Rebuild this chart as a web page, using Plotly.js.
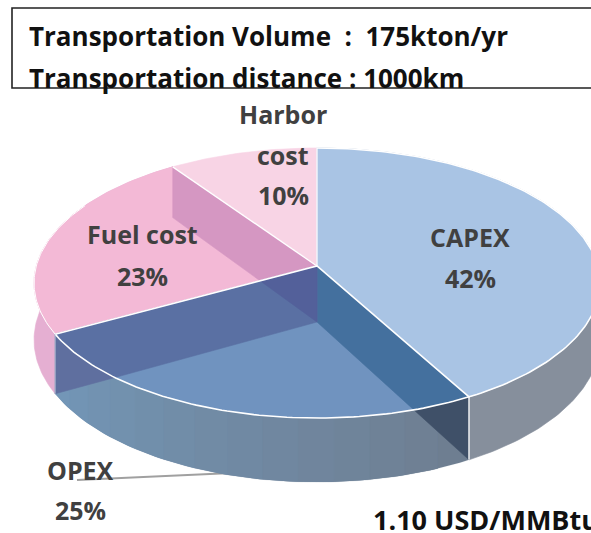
<!DOCTYPE html>
<html>
<head>
<meta charset="utf-8">
<script src="https://cdn.plot.ly/plotly-3.0.1.min.js"></script>
<style>html,body{margin:0;padding:0;background:#fff;overflow:hidden}#chart{width:591px;height:533px}</style>
</head>
<body>
<div id="chart"></div>
<script>
// Data
const categories = ["CAPEX", "OPEX", "Fuel cost", "Harbor cost"];
const shares = [42, 25, 23.4, 9.6];
const headerLines = ["Transportation Volume  :  175kton/yr", "Transportation distance : 1000km"];
const priceLabel = "1.10 USD/MMBtu";

// Style and layout
const C = {capexTop:"#A9C4E4", capexSide:"#868F9C", fuelTop:"#F3B9D6", fuelSide:"#E5AFD2", fuelWall:"#D597C2",
  harborTop:"#F8D4E5", floor:"#7093BF", rightWall:"#44709E", rightWallLow:"#3F5068", leftWall:"#5A70A3",
  leftWallLow:"#5F6F9F", overlap:"#53609A"};
const G = {cx:317, cy:266, a:280.7, b:132.9, k:0.126, depth:56};
const FONT = '"Open Sans", "Noto Sans", sans-serif';

const pct = shares.map(v => v / shares.reduce((s, x) => s + x, 0));
const cum = pct.reduce((acc, p) => { acc.push(acc[acc.length - 1] + p); return acc; }, [0]);

// Perspective projection of the pie disc into the axes
function rim(f, low) {
  const t = 2 * Math.PI * f, X = Math.sin(t), Y = -Math.cos(t), w = 1 - G.k * Y;
  return [G.cx + G.a * X / w, G.cy + (G.b * Y + (low ? G.depth : 0)) / w];
}
const A = [G.cx, G.cy], L = [G.cx, G.cy + G.depth];
function arc(f0, f1, low) {
  const n = Math.max(2, Math.ceil(Math.abs(f1 - f0) * 360)), out = [];
  for (let i = 0; i <= n; i++) out.push(rim(f0 + (f1 - f0) * i / n, low));
  return out;
}
function side(p, q, r) { return (q[0]-p[0])*(r[1]-p[1]) - (q[1]-p[1])*(r[0]-p[0]); }
function crossing(P, Q, f0, f1) {
  const n = 2000; let prev = side(P, Q, rim(f0));
  for (let i = 1; i <= n; i++) {
    const f = f0 + (f1 - f0) * i / n, s = side(P, Q, rim(f));
    if (s * prev <= 0 && i > 5) return f;
    prev = s;
  }
  return f1;
}
function meet(p1, p2, p3, p4) {
  const d = (p1[0]-p2[0])*(p3[1]-p4[1]) - (p1[1]-p2[1])*(p3[0]-p4[0]);
  const u = ((p1[0]-p3[0])*(p3[1]-p4[1]) - (p1[1]-p3[1])*(p3[0]-p4[0])) / d;
  return [p1[0] + u*(p2[0]-p1[0]), p1[1] + u*(p2[1]-p1[1])];
}
const traces = [];
function poly(pts, fill, lineColor, lineWidth) {
  const closed = pts.concat([pts[0]]);
  traces.push({type:"scatter", mode:"lines", x:closed.map(p=>p[0]), y:closed.map(p=>p[1]), fill:fill?"toself":"none",
    fillcolor:fill||undefined, line:{color:lineColor||fill, width:lineWidth===undefined?0.6:lineWidth}, hoverinfo:"skip", showlegend:false});
}
function stroke(pts, color, width) {
  traces.push({type:"scatter", mode:"lines", x:pts.map(p=>p[0]), y:pts.map(p=>p[1]),
    line:{color:color, width:width}, hoverinfo:"skip", showlegend:false});
}
const fC = cum[1], fO = cum[2], fF = cum[3];
const O = rim(fO), O2 = rim(fO, true), R = rim(fC), R2 = rim(fC, true), F = rim(fF), F2 = rim(fF, true);

// Leader line for OPEX
stroke([[77,480],[232,473]], "#A0A0A0", 1.8);

// Outer side walls
poly(arc(0, fC).concat(arc(fC, 0, true)), C.capexSide);
poly(arc(fO, fF).concat(arc(fF, fO, true)), C.fuelSide);
const strips = 14, cL = [115,151,184], cR = [110,125,144];
for (let i = 0; i < strips; i++) {
  const f0 = fC + (fO - fC) * i / strips, f1 = fC + (fO - fC) * (i + 1) / strips, m = (i + 0.5) / strips;
  const col = "rgb(" + cL.map((v, j) => Math.round(cR[j] + (v - cR[j]) * m)).join(",") + ")";
  // each strip reaches under the next one, so no seams show between them
  const f2 = Math.min(fO, f1 + (fO - fC) / strips);
  poly(arc(f0, f2).concat(arc(f2, f0, true)), col, col, 0.1);
}

// Top faces
poly([A].concat(arc(fF, 1)), C.harborTop);
poly([A].concat(arc(fO, fF)), C.fuelTop);
poly([A, F, F2, L], C.fuelWall);
poly([A].concat(arc(0, fC)), C.capexTop);
poly([A].concat(arc(fC, fO)), C.floor);

// Inner walls seen through the OPEX slice
const fR = crossing(L, R2, fC, fO), fL = crossing(O2, L, fO, fC);
poly([A].concat(arc(fC, fR)).concat([L]), C.rightWall);
poly([R].concat(arc(fC, fR)).concat([R2]), C.rightWallLow);
poly([A].concat(arc(fO, fL)).concat([L]), C.leftWall);
poly(arc(fO, fL).concat([O2]), C.leftWallLow);
poly([A, L, meet(F2, L, A, O)], C.overlap);

// White edges
stroke(arc(0, fO), "#FFFFFF", 1.6);
stroke(arc(fO, fO + 0.16), "#FFFFFF", 1);
stroke([R, A, O], "#FFFFFF", 1.6);
stroke([A, F], "#FFFFFF", 1.4);
stroke([[G.cx, G.cy], rim(0)], "#FFFFFF", 1.2);
stroke([R, R2], "#FFFFFF", 1.4);
stroke([O, O2], "#C8CFE0", 0.8);

const labelStyle = {family:FONT, size:25, color:"#404040", weight:700};
const blackStyle = {family:FONT, size:26, color:"#111111", weight:700};
const priceStyle = {family:FONT, size:27, color:"#111111", weight:700};
function note(text, x, y, font, anchor) {
  return {text:text, x:x, y:y, xref:"x", yref:"y", showarrow:false, font:font, xanchor:anchor||"center", yanchor:"middle", align:"center"};
}
const pctText = pct.map(p => Math.round(p * 100) + "%");
const annotations = [
  note(headerLines[0], 27, 36, blackStyle, "left"),
  note(headerLines[1], 27, 78, blackStyle, "left"),
  note("Harbor", 283, 114, labelStyle),
  note("cost", 283, 155, labelStyle),
  note(pctText[3], 283, 195, labelStyle),
  note(categories[2], 142, 234, labelStyle),
  note(pctText[2], 142, 276, labelStyle),
  note(categories[0], 470, 237, labelStyle),
  note(pctText[0], 470, 278, labelStyle),
  note(categories[1], 80, 470, labelStyle),
  note(pctText[1], 80, 510, labelStyle),
  note(priceLabel, 371, 519, priceStyle, "left")
];

const layout = {
  width:591, height:533, margin:{l:0,r:0,t:0,b:0}, paper_bgcolor:"#fff", plot_bgcolor:"#fff", showlegend:false,
  xaxis:{range:[0,591], visible:false, fixedrange:true},
  yaxis:{range:[533,0], visible:false, fixedrange:true},
  shapes:[{type:"rect", xref:"x", yref:"y", x0:12, x1:640, y0:8, y1:88, line:{color:"#222222", width:1.6}, fillcolor:"rgba(0,0,0,0)"}],
  annotations:annotations
};
Plotly.newPlot("chart", traces, layout, {staticPlot:true, displayModeBar:false});
</script>
</body>
</html>
